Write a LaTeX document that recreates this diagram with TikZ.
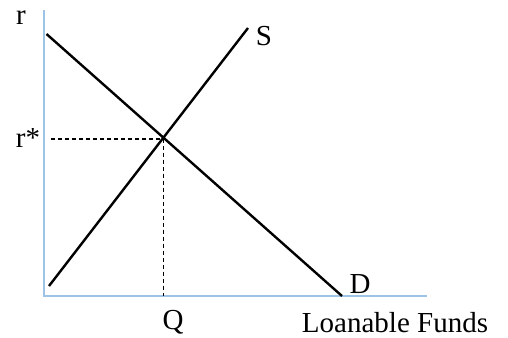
\documentclass[tikz,border=0pt]{standalone}
\usepackage{fontspec}
\setmainfont{Liberation Serif}
\begin{document}
\begin{tikzpicture}[x=1pt,y=-1pt,
  axis/.style={draw={rgb,255:red,157;green,195;blue,230},line width=2pt},
  curve/.style={draw=black,line width=2.4pt},
  guide/.style={draw=black,line width=1.2pt,dash pattern=on 4pt off 3pt},
  lbl/.style={inner sep=0pt,anchor=base,font=\fontsize{29}{29}\selectfont}]
\useasboundingbox (0,0) rectangle (508,337);
\coordinate (o) at (43.5,296);
\coordinate (ytop) at (43.5,10);
\coordinate (xend) at (427,296);
\coordinate (d1) at (46.5,34);
\coordinate (d2) at (342,296);
\coordinate (s1) at (49,286);
\coordinate (s2) at (248,28);
\coordinate (eq) at (163.5,139);
\coordinate (hl) at (51,139);
\coordinate (qb) at (163.5,296);
\draw[axis] (ytop) -- (o) -- (xend);
\draw[guide] (hl) -- (eq) -- (qb);
\draw[curve] (d1) -- (d2);
\draw[curve] (s1) -- (s2);
\node[lbl] (r) at (21,25) {r};
\node[lbl] (rs) at (28,147) {r*};
\node[lbl] (S) at (264,45.5) {S};
\node[lbl] (D) at (360,293.5) {D};
\node[lbl] (Q) at (173,329) {Q};
\node[lbl] (lf) at (395,332) {Loanable Funds};
\end{tikzpicture}
\end{document}
